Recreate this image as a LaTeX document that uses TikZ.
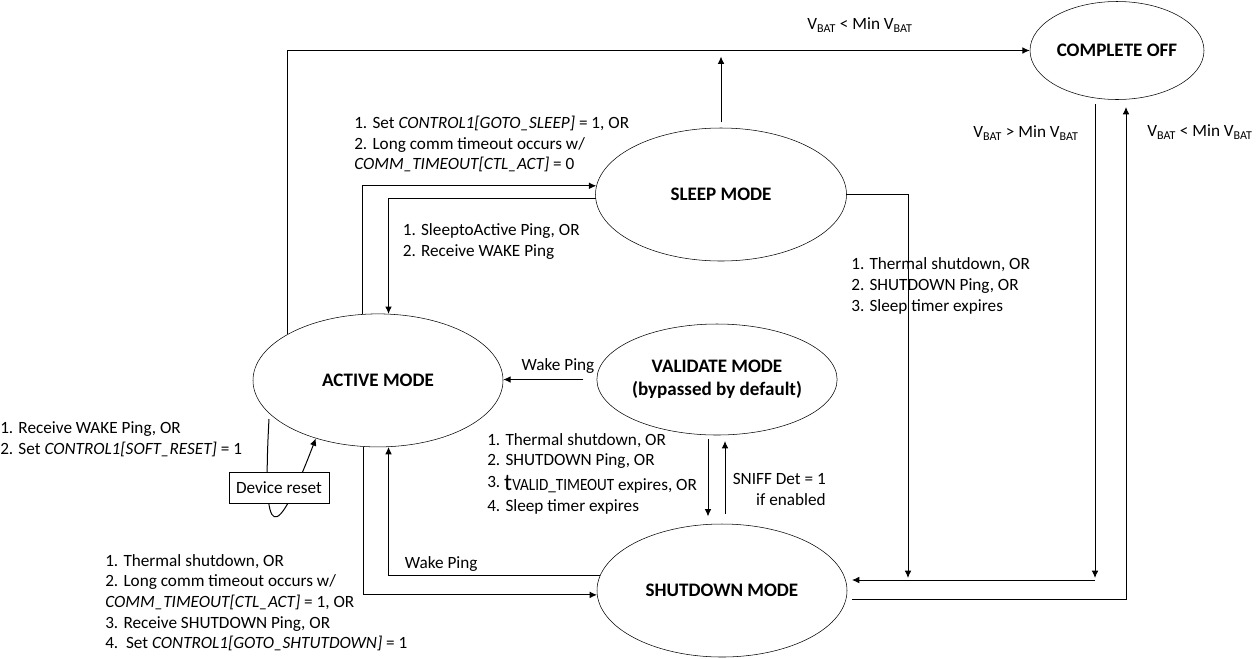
\documentclass[tikz,border=0pt]{standalone}
\usepackage{fontspec}
\setmainfont{Carlito}
\usetikzlibrary{arrows.meta,shapes.geometric,positioning}
\newcommand\vbat{V\textsubscript{BAT}}
\tikzset{
  >={Latex[length=5.5pt,width=5pt]},
  every node/.style={font=\fontsize{12.9}{15.5}\selectfont},
  mode/.style={draw,ellipse,inner sep=0pt,line width=0.4pt,align=center,
    font=\fontsize{14.3}{17.5}\selectfont\bfseries},
  cond/.style={align=left,inner sep=0pt},
  link/.style={->,line width=0.75pt},
}

\begin{document}
\begin{tikzpicture}[x=0.75pt,y=-0.75pt]
\useasboundingbox (0,0) rectangle (1259,658);

\node[mode,minimum width=130.5pt,minimum height=73.5pt] (off) at (1117,50.5) {COMPLETE OFF};
\node[mode,minimum width=188.25pt,minimum height=99.75pt] (sleep) at (721,194.5) {SLEEP MODE};
\node[mode,minimum width=187.5pt,minimum height=99.75pt] (active) at (378,380.4) {ACTIVE MODE};
\node[mode,minimum width=145.5pt,minimum height=83.25pt] (validate) at (717,379.5) {VALIDATE MODE\\(bypassed by default)};
\node[mode,minimum width=187.5pt,minimum height=99.75pt] (shutdown) at (722,590.5) {SHUTDOWN MODE};

\coordinate (vdown) at (708,0);
\coordinate (vup) at (725,0);
\coordinate (jsleep) at (908,578);
\coordinate (joff) at (1095,578);
\coordinate (jbus) at (1095,580);
\coordinate (jret) at (1126,599.3);
\coordinate (rst) at (269,419);

\draw[link] (active.153.7) |- (off.west);
\draw[link,shorten <=4pt,shorten >=4.5pt] (sleep.north) -- (sleep.north |- off.west);
\draw[link] (active.103.1) |- (sleep.176.1);
\draw[link] (sleep.182.5) -| (active.81.8);
\draw[link,shorten <=10pt] (validate.west) -- (active.east |- validate.west);
\draw[link] (active.258.6) |- (shutdown.182.2);
\draw[link] (shutdown.173.2) -| (active.279.4);
\draw[link,shorten <=3pt,shorten >=5.5pt] (validate.south -| vdown) -- (shutdown.north -| vdown);
\draw[link,shorten <=7.5pt,shorten >=4.3pt] (shutdown.north -| vup) -- (validate.south -| vup);
\draw[link] (sleep.east) -| (jsleep);
\draw[link,shorten <=3.4pt] (off.south -| joff) -- (joff);
\draw[link,shorten >=3.5pt] (jbus) -- (shutdown.east |- jbus);
\draw[link,shorten <=3.75pt,shorten >=5.4pt] (shutdown.east |- jret) -| (off.south -| jret);
\draw[link] (rst) .. controls (262,545) and (275,545) .. (active.223);

\node[draw,fill=white,inner sep=0pt,line width=0.6pt,minimum width=75pt,minimum height=23pt] (reset) at (279,488) {Device reset};

\node[inner sep=0pt] (vlow1) at (860,25) {\vbat{} < Min \vbat};
\node[inner sep=0pt] (vhigh) at (1026,133) {\vbat{} > Min \vbat};
\node[inner sep=0pt] (vlow2) at (1200,132) {\vbat{} < Min \vbat};
\node[cond,anchor=west] (gosleep) at (354,144) {1. Set \textit{CONTROL1[GOTO\_SLEEP]} = 1, OR\\2. Long comm timeout occurs w/\\\textit{COMM\_TIMEOUT[CTL\_ACT]} = 0};
\node[cond,anchor=west] (towake) at (402.6,241.5) {1. SleeptoActive Ping, OR\\2. Receive WAKE Ping};
\node[cond,anchor=west] (sleepdown) at (851,286) {1. Thermal shutdown, OR\\2. SHUTDOWN Ping, OR\\3. Sleep timer expires};
\node[cond,anchor=west] (softreset) at (0,439.5) {1. Receive WAKE Ping, OR\\2. Set \textit{CONTROL1[SOFT\_RESET]} = 1};
\node[cond,anchor=west] (valdown) at (487,473.5) {1. Thermal shutdown, OR\\2. SHUTDOWN Ping, OR\\[3pt]\raisebox{2pt}{3.} {\fontsize{18}{18}\selectfont t}\scalebox{0.88}[1]{VALID\_TIMEOUT} expires, OR\\4. Sleep timer expires};
\node[cond,anchor=west] (actdown) at (105,602.6) {1. Thermal shutdown, OR\\2. Long comm timeout occurs w/\\\textit{COMM\_TIMEOUT[CTL\_ACT]} = 1, OR\\3. Receive SHUTDOWN Ping, OR\\4.\ \ Set \textit{CONTROL1[GOTO\_SHTUTDOWN]} = 1};
\node[cond,align=right,anchor=east] (sniff) at (826,489.5) {SNIFF Det = 1\\if enabled};
\node[inner sep=0pt] (wakeval) at (558,366) {Wake Ping};
\node[inner sep=0pt,anchor=west] (wakeshut) at (404.6,564) {Wake Ping};
\end{tikzpicture}
\end{document}
